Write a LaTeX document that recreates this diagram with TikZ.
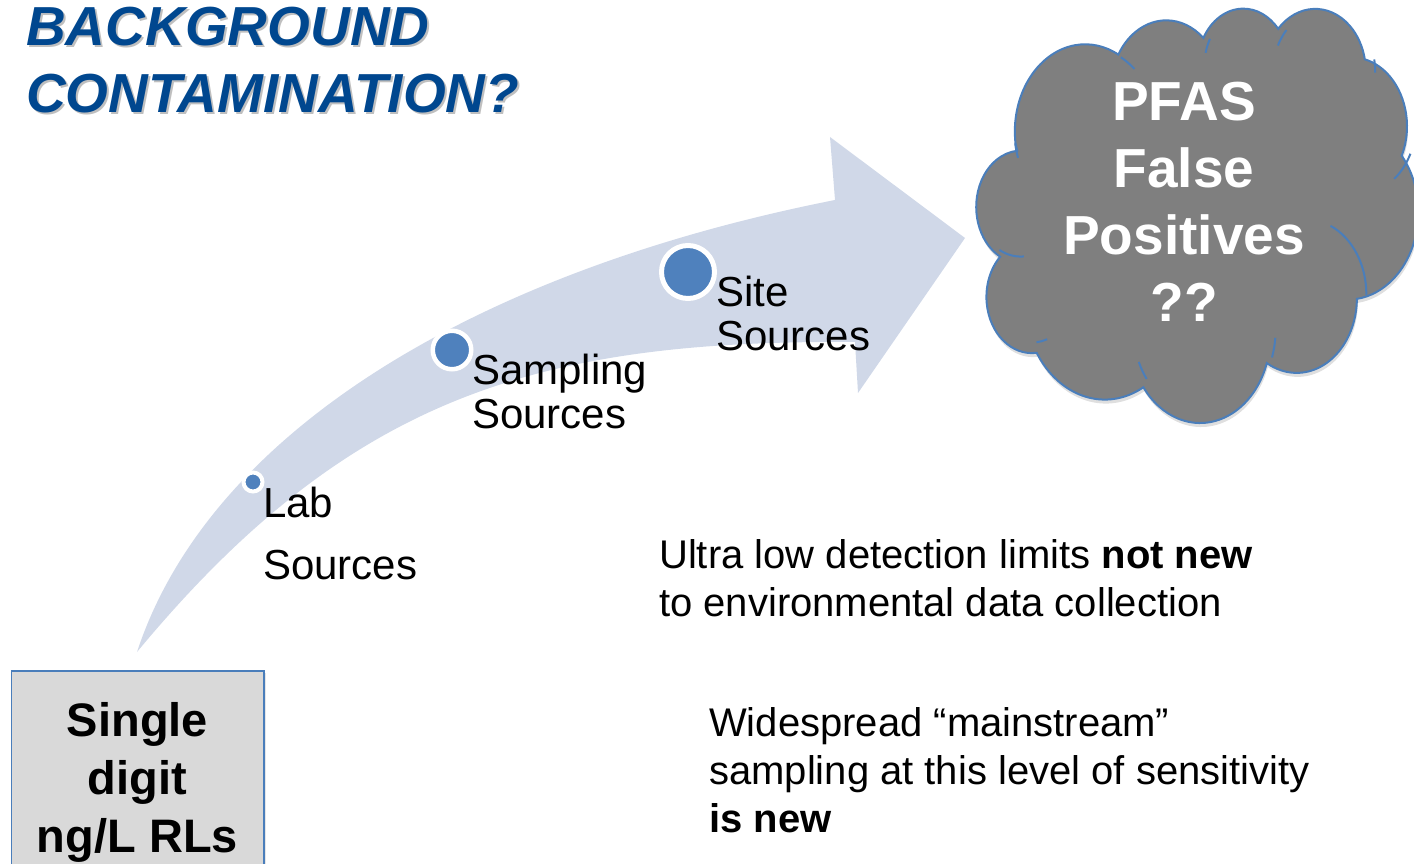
\documentclass[tikz,border=0pt]{standalone}
\usepackage{fontspec}
\setmainfont{Liberation Sans}
\usetikzlibrary{shadows}
\definecolor{titleblue}{RGB}{0,71,143}
\definecolor{arrowfill}{RGB}{208,216,232}
\definecolor{dotblue}{RGB}{79,129,189}
\definecolor{edgeblue}{RGB}{74,126,187}
\definecolor{cloudgray}{RGB}{127,127,127}
\definecolor{boxgray}{RGB}{217,217,217}

% cloud geometry (PowerPoint preset "cloud"), in pixel units
\def\cW{450}\def\cH{410}\def\cX{975}\def\cY{8}
\newcommand\cloudcalc[5]{%
  \edef\crx{\fpeval{round(#2*\cW/43200,4)}}%
  \edef\cry{\fpeval{round(#3*\cH/43200,4)}}%
  \edef\caS{\fpeval{(#4)/60000}}%
  \edef\caE{\fpeval{((#4)+(#5))/60000}}%
  \edef\ctS{\fpeval{round(atand(\crx*sind(\caS),\cry*cosd(\caS)),4)}}%
  \edef\ctE{\fpeval{round(atand(\crx*sind(\caE),\cry*cosd(\caE)),4)}}%
  \edef\ctF{\fpeval{round((#5)>0 ? \ctS+((\ctE-\ctS+720)-360*floor((\ctE-\ctS+720)/360)) : \ctS-((\ctS-\ctE+720)-360*floor((\ctS-\ctE+720)/360)),4)}}%
  \xdef#1{arc[start angle=\fpeval{0-(\ctS)}, end angle=\fpeval{0-(\ctF)}, x radius=\crx pt, y radius=\cry pt]}%
}
\newcommand\cpt[3]{\xdef#1{(\fpeval{round(\cX+#2*\cW/43200,3)},\fpeval{round(\cY+#3*\cH/43200,3)})}}

\cloudcalc\arcA{6753}{9190}{-11429249}{7426832}
\cloudcalc\arcB{5333}{7267}{-8646143}{5396714}
\cloudcalc\arcC{4365}{5945}{-8748475}{5983381}
\cloudcalc\arcD{4857}{6595}{-7859164}{7034504}
\cloudcalc\arcE{5333}{7273}{-4722533}{6541615}
\cloudcalc\arcF{6775}{9220}{-2776035}{7816140}
\cloudcalc\arcG{5785}{7867}{37501}{6842000}
\cloudcalc\arcH{6752}{9215}{1347096}{6910353}
\cloudcalc\arcI{7720}{10543}{3974558}{4542661}
\cloudcalc\arcJ{4360}{5918}{-16496525}{8804134}
\cloudcalc\arcK{4345}{5945}{-14809710}{9151131}
\cpt\ptStart{3900}{14370}

\cloudcalc\inA{4345}{5945}{5204520}{1585770}\cpt\pinA{4693}{26177}
\cloudcalc\inB{4360}{5918}{4416628}{686848}\cpt\pinB{6928}{34899}
\cloudcalc\inC{6752}{9215}{8257449}{844866}\cpt\pinC{16478}{39090}
\cloudcalc\inD{6752}{9215}{387196}{959901}\cpt\pinD{28827}{34751}
\cloudcalc\inE{5785}{7867}{-4217541}{4255042}\cpt\pinE{34129}{22954}
\cloudcalc\inF{5333}{7273}{1819082}{1665090}\cpt\pinF{41798}{15354}
\cloudcalc\inG{4857}{6595}{-824660}{891534}\cpt\pinG{38324}{5426}
\cloudcalc\inH{4857}{6595}{-8950887}{1091722}\cpt\pinH{29078}{3952}
\cloudcalc\inI{4365}{5945}{-9809656}{1061181}\cpt\pinI{22141}{4720}
\cloudcalc\inJ{6753}{9190}{-4002417}{739161}\cpt\pinJ{14000}{5192}
\cloudcalc\inK{6753}{9190}{9459261}{711490}\cpt\pinK{4127}{15789}

\begin{document}
\begin{tikzpicture}[x=1pt,y=-1pt,
  titletext/.style={anchor=north west, inner sep=0, align=left,
    font=\fontsize{55}{67}\selectfont\bfseries\itshape},
  label/.style={anchor=north west, inner sep=0, align=left,
    font=\fontsize{42}{43.5}\selectfont},
  bodytext/.style={anchor=north west, inner sep=0, align=left,
    font=\fontsize{40}{47.5}\selectfont},
  srcdot/.style={circle, fill=dotblue, draw=white, inner sep=0},
  cloudline/.style={draw=edgeblue, line width=2pt},
  rlbox/.style={draw=edgeblue, line width=1.5pt, fill=boxgray, inner sep=0,
    align=center, font=\fontsize{47}{58}\selectfont\bfseries,
    drop shadow={opacity=0.2, shadow xshift=2pt, shadow yshift=-2pt}}]
\useasboundingbox (0,0) rectangle (1414,864);
\clip (0,0) rectangle (1414,864);

% title
\node[titletext, text=black, opacity=0.25] (titleshadow) at (28,9.3) {BACKGROUND\\CONTAMINATION?};
\node[titletext, text=titleblue] (title) at (26,7.3) {BACKGROUND\\CONTAMINATION?};

% curved arrow
\coordinate (tail) at (137,652);
\coordinate (headtop) at (835,200);
\coordinate (headbot) at (855,342);
\fill[arrowfill] (tail) .. controls (210,430) and (480,270) .. (headtop)
  -- (830,137) -- (965,238) -- (858,393) -- (headbot)
  .. controls (540,340) and (350,395) .. (tail) -- cycle;

% source dots and labels
\node[srcdot, minimum size=19pt, line width=4pt] (labdot) at (253,482) {};
\node[srcdot, minimum size=38.5pt, line width=4.5pt] (sampdot) at (452,350) {};
\node[srcdot, minimum size=53pt, line width=5pt] (sitedot) at (688,272) {};
\node[label, font=\fontsize{42}{62}\selectfont] (lab) at (263,487.3) {Lab\\Sources};
\node[label] (samp) at (472,354) {Sampling\\Sources};
\node[label] (site) at (716,276) {Site\\Sources};

% cloud
\path[fill=cloudgray, drop shadow={opacity=0.25, shadow xshift=1pt, shadow yshift=-4pt}]
  \ptStart \arcA \arcB \arcC \arcD \arcE \arcF \arcG \arcH \arcI \arcJ \arcK -- cycle;
\draw[cloudline] \ptStart \arcA \arcB \arcC \arcD \arcE \arcF \arcG \arcH \arcI \arcJ \arcK -- cycle;
\draw[cloudline] \pinA \inA \pinB \inB \pinC \inC \pinD \inD \pinE \inE \pinF \inF
  \pinG \inG \pinH \inH \pinI \inI \pinJ \inJ \pinK \inK;
\node[anchor=north, inner sep=0, align=center, text=white,
  font=\fontsize{55}{67}\selectfont\bfseries] (pfas) at (1184,82.3) {PFAS\\False\\Positives\\??};

% box
\node[rlbox, anchor=north west, minimum width=252.5pt, minimum height=224pt] (rl) at (10.5,670) {Single\\digit\\ng/L RLs};

% statements
\node[bodytext] (ultra) at (659,539.4) {Ultra low detection limits \textbf{not new}\\to environmental data collection};
\node[bodytext, font=\fontsize{40}{48}\selectfont] (wide) at (709,707.4) {Widespread “mainstream”\\sampling at this level of sensitivity\\\textbf{is new}};
\end{tikzpicture}
\end{document}
